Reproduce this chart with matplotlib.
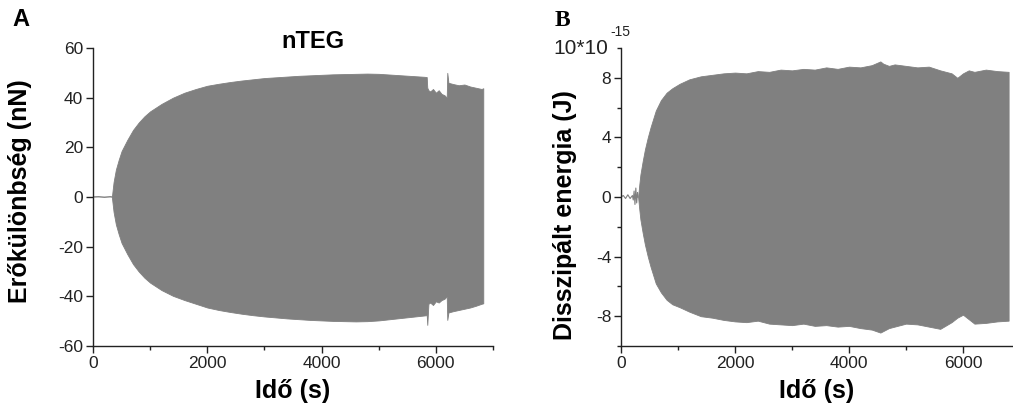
import matplotlib
matplotlib.use("Agg")
import matplotlib.pyplot as plt
from matplotlib.ticker import MultipleLocator, FixedLocator

plt.rcParams['font.family'] = ['Liberation Sans', 'DejaVu Sans']
plt.rcParams['axes.unicode_minus'] = False

# ---------------- data: panel A (force difference, nN) ----------------
a_base_t = [0, 100, 200, 300, 335]
a_base_v = [0, 0.1, -0.1, 0.1, 0]

a_t = [330, 360, 400, 450, 500, 600, 700, 800, 900, 1000, 1200, 1400, 1600,
       1800, 2000, 2200, 2400, 2600, 2800, 3000, 3200, 3400, 3600, 3800, 4000,
       4200, 4400, 4600, 4800, 5000, 5200, 5400, 5600, 5800, 5840, 5850, 5870,
       5900, 5950, 6000, 6050, 6100, 6150, 6190, 6200, 6220, 6300, 6400, 6500,
       6600, 6700, 6800, 6830]
a_upper = [0, 6, 11, 15, 18.5, 23, 27, 30, 32.5, 34.5, 37.5, 40, 42,
           43.5, 44.8, 45.6, 46.3, 46.9, 47.4, 47.9, 48.2, 48.5, 48.8, 49.0, 49.2,
           49.4, 49.5, 49.6, 49.7, 49.6, 49.3, 49.0, 48.7, 48.4, 48.3, 44.0, 43.0,
           42.5, 43.5, 42.0, 43.0, 41.5, 41.0, 40.0, 50.0, 46.0, 45.5, 45.0, 45.3,
           44.5, 44.0, 43.5, 43.8]
a_lower = [0, -6, -11, -15, -18.5, -23, -27, -30, -32.5, -34.5, -37.5, -39.8, -41.5,
           -43, -44.5, -45.5, -46.3, -47, -47.6, -48.1, -48.5, -48.9, -49.2, -49.5, -49.7,
           -49.9, -50.0, -50.1, -50.0, -49.7, -49.2, -48.7, -48.2, -47.7, -47.6, -51.5, -43.0,
           -42.5, -43.5, -42.0, -42.5, -41.5, -41.0, -40.0, -49.5, -46.5, -46.0, -45.5, -45.0,
           -44.5, -43.8, -43.0, -42.8]

# ---------------- data: panel B (dissipated energy, 1e-15 J) ----------------
b_base_t = [0, 40, 80, 120, 160, 200, 215, 230, 245, 260, 275, 290, 300]
b_base_v = [0, 0.1, -0.1, 0.15, -0.1, 0.1, -0.2, 0.4, -0.5, 0.6, -0.4, 0.3, 0]

b_t = [300, 320, 340, 380, 420, 470, 520, 610, 700, 800, 900, 1030, 1200, 1400,
       1600, 1800, 2000, 2200, 2400, 2600, 2800, 3000, 3200, 3400, 3600, 3800,
       4000, 4200, 4400, 4550, 4600, 4700, 4800, 5000, 5200, 5400, 5600, 5800,
       5900, 6000, 6100, 6200, 6400, 6600, 6800]
b_upper = [0, 0.8, 1.5, 2.4, 3.2, 4.0, 4.7, 5.8, 6.5, 7.0, 7.3, 7.6, 7.9, 8.1,
           8.2, 8.3, 8.35, 8.3, 8.45, 8.4, 8.55, 8.5, 8.6, 8.55, 8.7, 8.6,
           8.75, 8.7, 8.85, 9.1, 8.95, 8.8, 8.9, 8.8, 8.7, 8.75, 8.5, 8.3,
           8.0, 8.3, 8.5, 8.4, 8.55, 8.45, 8.4]
b_lower = [0, -0.8, -1.5, -2.4, -3.2, -4.0, -4.7, -5.8, -6.4, -6.9, -7.2, -7.4, -7.7, -8.0,
           -8.1, -8.25, -8.35, -8.4, -8.3, -8.5, -8.55, -8.6, -8.5, -8.65, -8.6, -8.7,
           -8.65, -8.8, -8.9, -9.1, -9.0, -8.8, -8.7, -8.5, -8.55, -8.7, -8.85, -8.4,
           -8.1, -7.9, -8.2, -8.5, -8.45, -8.35, -8.3]

a_yticks = [-60, -40, -20, 0, 20, 40, 60]
b_yticks = [-8, -4, 0, 4, 8]
x_ticks = [0, 2000, 4000, 6000]

GREY = '#808080'
W, H = 1013, 412
fig = plt.figure(figsize=(W / 100, H / 100), dpi=100)

def px(x0, y0, x1, y1):
    return [x0 / W, 1 - y1 / H, (x1 - x0) / W, (y1 - y0) / H]

axA = fig.add_axes(px(93, 48, 493, 346))
axB = fig.add_axes(px(621, 48, 1013, 346))

for ax in (axA, axB):
    for s in ('top', 'right'):
        ax.spines[s].set_visible(False)
    for s in ('left', 'bottom'):
        ax.spines[s].set_linewidth(1.0)
        ax.spines[s].set_color('#222222')
    ax.tick_params(which='major', direction='out', length=5, width=1, labelsize=12.5,
                   color='#222222', labelcolor='#222222', pad=2)
    ax.tick_params(which='minor', direction='out', length=3, width=1, color='#222222')
    ax.set_xticks(x_ticks)
    ax.xaxis.set_minor_locator(MultipleLocator(1000))

# panel A
axA.plot(a_base_t, a_base_v, color=GREY, lw=1)
axA.fill_between(a_t, a_lower, a_upper, color=GREY, lw=0.6, edgecolor=GREY)
axA.set_xlim(0, 7000)
axA.set_ylim(-60, 60)
axA.set_yticks(a_yticks)
axA.set_xlabel('Idő (s)', fontsize=18, fontweight='bold', labelpad=6)
axA.set_ylabel('Erőkülönbség (nN)', fontsize=18, fontweight='bold')
axA.yaxis.set_label_coords(-0.1525, 0.52)
axA.text(313 / W, 1 - 42 / H, 'nTEG', transform=fig.transFigure, fontsize=17,
         fontweight='bold', ha='center', va='center')

# panel B
axB.plot(b_base_t, b_base_v, color=GREY, lw=0.8)
axB.fill_between(b_t, b_lower, b_upper, color=GREY, lw=0.6, edgecolor=GREY)
axB.set_xlim(0, 6877)
axB.set_ylim(-10, 10)
axB.set_yticks(b_yticks)
axB.yaxis.set_minor_locator(FixedLocator([-10, -6, -2, 2, 6, 10]))
axB.set_xlabel('Idő (s)', fontsize=18, fontweight='bold', labelpad=6)
axB.set_ylabel('Disszipált energia (J)', fontsize=18, fontweight='bold')
axB.yaxis.set_label_coords(-0.112, 0.44)
fig.text(553 / W, 1 - 48 / H, '10*10', fontsize=15, ha='left', va='center',
         color='#222222')
fig.text(610 / W, 1 - 32 / H, '-15', fontsize=10, ha='left', va='center',
         color='#222222')

# panel letters
fig.text(12 / W, 1 - 20 / H, 'A', fontsize=17, fontweight='bold', ha='left', va='center')
fig.text(555 / W, 1 - 20 / H, 'B', fontsize=17, fontweight='bold', ha='left', va='center',
         family='Liberation Serif')

fig.savefig('out.png', dpi=100)
